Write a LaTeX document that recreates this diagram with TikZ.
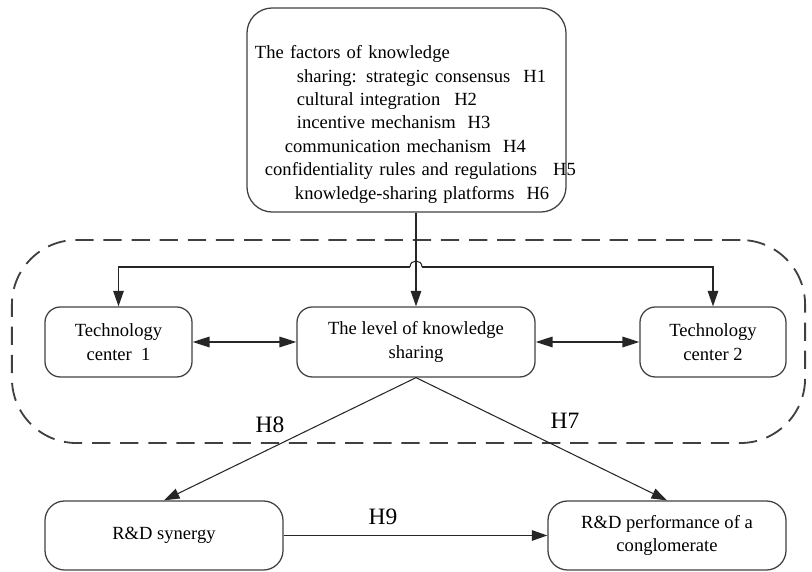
\documentclass[tikz,border=0pt]{standalone}
\usepackage{fontspec}
\setmainfont{Liberation Serif}
\usetikzlibrary{arrows.meta}

\begin{document}
\begin{tikzpicture}[x = 0.025cm, y = 0.025cm,
    every node/.style = {font=\fontsize{13.2}{16.6}\selectfont, text=black},
    box/.style = {draw=black!75, line width=0.9pt, rounded corners=11pt, align=center, inner sep=0pt},
    flow/.style = {draw=black!85, line width=0.75pt, -{Triangle[length=11pt,width=7.5pt]}},
    twoway/.style = {draw=black!85, line width=1pt, {Triangle[length=12pt,width=7.5pt]}-{Triangle[length=12pt,width=7.5pt]}},
    hyp/.style = {font=\fontsize{16.7}{20}\selectfont}]
    \useasboundingbox (0,0) rectangle (812,572);
    % dashed frame round the three centres
    \node[draw=black!75, line width=1.3pt, dash pattern=on 13pt off 7pt, rounded corners=46pt,
        minimum width=19.825cm, minimum height=5.075cm] (sharingzone) at (408.5,230.5) {};
    % factors
    \node[box, rounded corners=18pt, align=left, text width=7.575cm, inner xsep=0.2cm,
        minimum height=5.1cm] (factors) at (406.5,462) {\rule{0pt}{1.05cm}The factors of knowledge\\
        \hspace*{1.05cm}sharing: strategic consensus\hspace{0.325cm}H1\\
        \hspace*{1.05cm}cultural integration\hspace{0.35cm}H2\\
        \hspace*{1.05cm}incentive mechanism\hspace{0.3cm}H3\\
        \hspace*{0.75cm}communication mechanism\hspace{0.3cm}H4\\
        \hspace*{0.25cm}\mbox{confidentiality rules and regulations\hspace{0.4cm}H5}\\
        \hspace*{1.0cm}knowledge-sharing platforms\hspace{0.3cm}H6};
    % technology centres and sharing level
    \node[box, minimum width=3.675cm, minimum height=1.75cm] (center1) at (118.5,230) {Technology\\center\ \ 1};
    \node[box, minimum width=5.95cm, minimum height=1.75cm] (sharing) at (416,230) {The level of knowledge\\sharing};
    \node[box, minimum width=3.65cm, minimum height=1.75cm] (center2) at (713,230) {Technology\\center 2};
    % outcomes
    \node[box, rounded corners=14pt, minimum width=5.95cm, minimum height=1.725cm] (synergy) at (164,36.5) {R\&D synergy};
    \node[box, rounded corners=14pt, minimum width=5.95cm, minimum height=1.725cm] (performance) at (667,36.5) {R\&D performance of a\\conglomerate};
    % connectors
    \coordinate (hopleft) at (410,305);
    \coordinate (hopright) at (422,305);
    \draw[flow] (sharing.north |- factors.south) -- (sharing.north);
    \draw[flow] (hopleft) -- (center1.north |- hopleft) -- (center1.north);
    \draw[flow] (hopright) -- (center2.north |- hopright) -- (center2.north);
    \draw[draw=black!85, line width=0.75pt] (hopleft) .. controls (410,313) and (422,313) .. (hopright);
    \draw[twoway] (center1.east) -- (sharing.west);
    \draw[twoway] (sharing.east) -- (center2.west);
    \draw[flow] (sharing.south) -- (synergy.north);
    \draw[flow] (sharing.south) -- (performance.north);
    \draw[flow] (synergy.east) -- (performance.west);
    % hypotheses
    \node[hyp] (h8) at (270,147) {H8};
    \node[hyp] (h7) at (565,151) {H7};
    \node[hyp] (h9) at (383,55) {H9};
\end{tikzpicture}
\end{document}
